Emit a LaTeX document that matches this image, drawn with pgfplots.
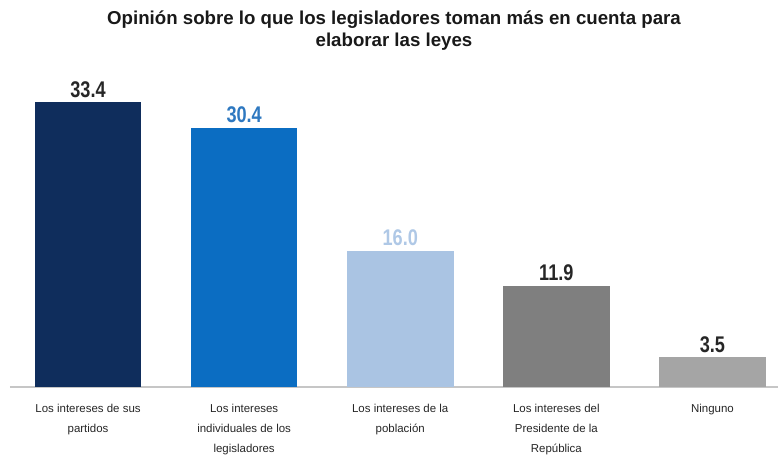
\documentclass[border=0pt]{standalone}
\usepackage{pgfplots}
\pgfplotsset{compat=1.18}
\usepackage{fontspec}
\setmainfont{Liberation Sans}
\newfontfamily\narrowfont[FakeStretch=0.8]{Liberation Sans}
\definecolor{cA}{HTML}{0F2D5C}
\definecolor{cB}{HTML}{0B6DC2}
\definecolor{cC}{HTML}{AAC4E3}
\definecolor{cD}{HTML}{7F7F7F}
\definecolor{cE}{HTML}{A5A5A5}
\definecolor{lB}{HTML}{2E78C0}
\definecolor{lC}{HTML}{AFC8E6}
\begin{document}
\begin{tikzpicture}
\useasboundingbox (-7.5pt,-54pt) rectangle (576pt,290.25pt);
\begin{axis}[
    scale only axis,
    width=576pt, height=237.75pt,
    ybar,
    xmin=-0.5, xmax=4.42,
    ymin=0, ymax=37.2,
    axis x line=bottom,
    axis y line=none,
    x axis line style={draw=gray!45, line width=0.8pt, -},
    xtick={0,1,2,3,4},
    major tick length=0pt,
    xticklabels={Los intereses de sus\\partidos,
                 Los intereses\\individuales de los\\legisladores,
                 Los intereses de la\\población,
                 Los intereses del\\Presidente de la\\República,
                 Ninguno},
    xticklabel style={font=\fontsize{8.6}{15}\selectfont, align=center, text=black!85, yshift=-9pt},
    title={Opinión sobre lo que los legisladores toman más en cuenta para\\elaborar las leyes},
    title style={font=\bfseries\fontsize{14}{16.5}\selectfont, align=center, yshift=5pt, text=black!90},
    bar width=80pt,
    every axis plot/.append style={bar shift=0pt, draw=none},
    nodes near coords,
    nodes near coords style={font=\narrowfont\bfseries\fontsize{17}{18}\selectfont,
      /pgf/number format/fixed, /pgf/number format/fixed zerofill,
      /pgf/number format/precision=1, /pgf/number format/assume math mode=true},
    point meta=y,
  ]
\addplot[fill=cA, nodes near coords style={text=black!85}] coordinates {(0,33.4)};
\addplot[fill=cB, nodes near coords style={text=lB}] coordinates {(1,30.4)};
\addplot[fill=cC, nodes near coords style={text=lC}] coordinates {(2,16.0)};
\addplot[fill=cD, nodes near coords style={text=black!85}] coordinates {(3,11.9)};
\addplot[fill=cE, nodes near coords style={text=black!85}] coordinates {(4,3.5)};
\end{axis}
\end{tikzpicture}
\end{document}
